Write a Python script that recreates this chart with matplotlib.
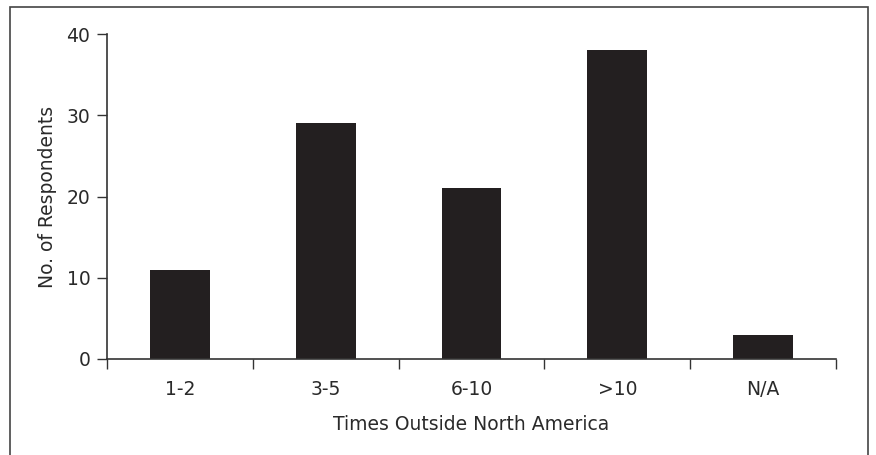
import matplotlib
matplotlib.use("Agg")
import matplotlib.pyplot as plt
from matplotlib.patches import Rectangle

categories = ["1-2", "3-5", "6-10", ">10", "N/A"]
respondents = [11, 29, 21, 38, 3]
yticks = [0, 10, 20, 30, 40]

plt.rcParams['font.family'] = ['DejaVu Sans']
text_color = "#2a2a2a"
fs = 13.5

W, H = 876, 455
fig = plt.figure(figsize=(W / 100, H / 100), dpi=100)
ax = fig.add_axes([107 / W, 1 - 359 / H, (836 - 107) / W, (359 - 34) / H])

x = list(range(len(categories)))
ax.bar(x, respondents, width=0.41, color="#231f20", edgecolor="none", zorder=2)

ax.set_xlim(-0.5, len(categories) - 0.5)
ax.set_ylim(0, 40)
ax.set_yticks(yticks)
ax.set_yticklabels([str(v) for v in yticks], fontsize=fs, color=text_color)

ax.set_xticks([i - 0.5 for i in range(len(categories) + 1)])
ax.set_xticklabels([])
ax.set_xticks(x, minor=True)
ax.set_xticklabels(categories, minor=True, fontsize=fs, color=text_color)
ax.tick_params(axis="x", which="major", direction="out", length=7, width=1, color="#333333")
ax.tick_params(axis="x", which="minor", length=0, pad=15)
ax.tick_params(axis="y", direction="out", length=7, width=1, color="#333333", pad=5)

for s in ["top", "right"]:
    ax.spines[s].set_visible(False)
for s in ["left", "bottom"]:
    ax.spines[s].set_color("#333333")
    ax.spines[s].set_linewidth(1.2)

ax.set_xlabel("Times Outside North America", fontsize=fs, color=text_color, labelpad=12)
ax.set_ylabel("No. of Respondents", fontsize=fs, color=text_color, labelpad=7)

frame = Rectangle((10 / W, -0.05), (868 - 10) / W, 1.05 - 7 / H, transform=fig.transFigure,
                  fill=False, edgecolor="#444444", linewidth=1.2, clip_on=False)
fig.patches.append(frame)

fig.savefig("out.png", dpi=100)
